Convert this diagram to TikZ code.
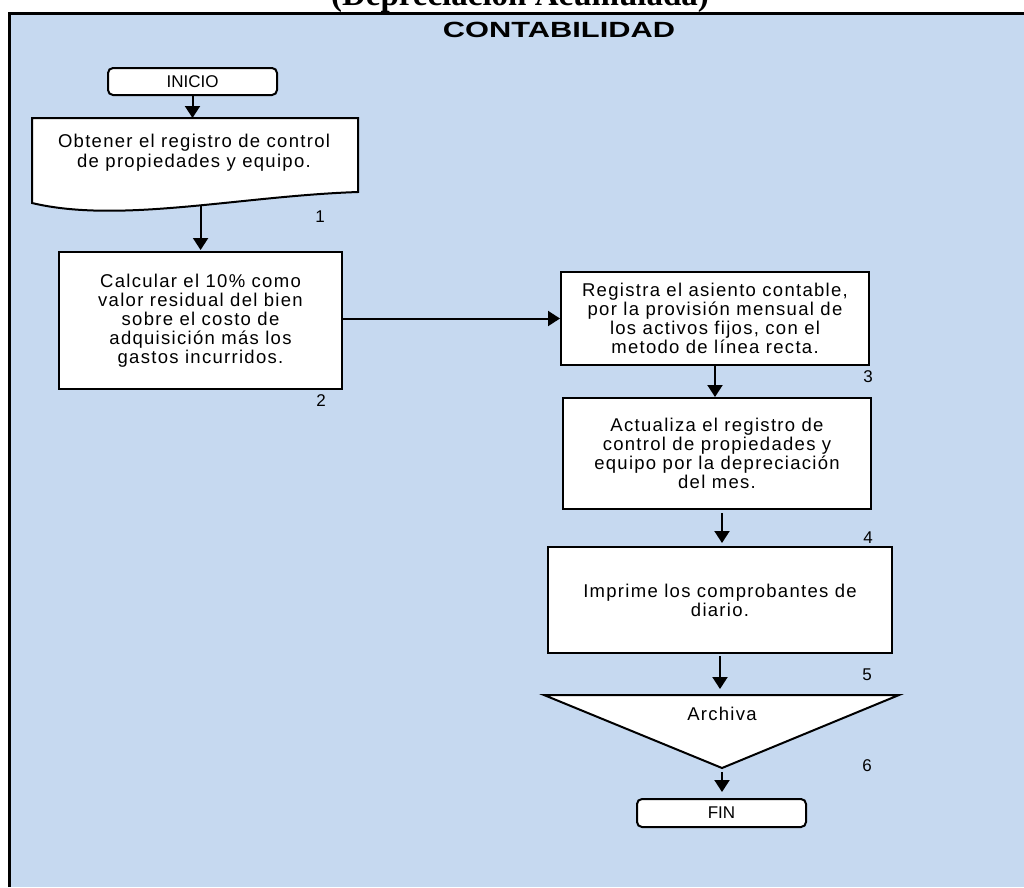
\documentclass[tikz,border=0pt]{standalone}
\usepackage{graphicx}
\usepackage{fontspec}
\setmainfont{Liberation Sans}
\newfontfamily\cuerpo{Liberation Sans}[LetterSpace=7]
\newfontfamily\titulo{Liberation Serif}
\usetikzlibrary{arrows.meta}
\definecolor{fondo}{RGB}{198,217,240}

\begin{document}
\begin{tikzpicture}[x=1pt,y=-1pt,
  caja/.style={draw,line width=2pt,fill=white,align=center,inner sep=0pt,
    font=\cuerpo\fontsize{18.5}{19}\selectfont},
  terminal/.style={caja,rounded corners=5pt,font=\fontsize{17}{19}\selectfont},
  flecha/.style={line width=2pt,-{Triangle[width=15pt,length=12pt]}},
  num/.style={font=\fontsize{17}{19}\selectfont}]
  \useasboundingbox (0,0) rectangle (1024,887);
  \fill[fondo] (10,13) rectangle (1024,887);
  \draw[line width=3pt] (9.5,887) -- (9.5,13) -- (1024,13);
  \node[anchor=base] (titulo) at (520,5) {\titulo\bfseries\fontsize{33}{36}\selectfont (Depreciación Acumulada)};
  \node (area) at (559,30) {\bfseries\fontsize{22}{24}\selectfont\scalebox{1.4}[1]{CONTABILIDAD}};

  \node[terminal,minimum width=169pt,minimum height=27pt] (inicio) at (192.5,81.5) {INICIO};
  \draw[line width=2pt,fill=white] (32,118) coordinate (doctop) -- (358,118) -- (358,192)
    .. controls (240,196) and (120,224) .. coordinate[pos=0.45] (docbot) (32,203) -- cycle;
  \node[align=center,font=\cuerpo\fontsize{18.5}{20}\selectfont] (obtener) at (194,153)
    {Obtener el registro de control\\de propiedades y equipo.};
  \node[caja,minimum width=283pt,minimum height=137pt] (calcular) at (200.5,320.5)
    {Calcular el 10\% como\\valor residual del bien\\sobre el costo de\\adquisición más los\\gastos incurridos.};
  \node[caja,minimum width=308pt,minimum height=93pt] (registra) at (715,318.5)
    {Registra el asiento contable,\\por la provisión mensual de\\los activos fijos, con el\\metodo de línea recta.};
  \node[caja,minimum width=308pt,minimum height=111pt] (actualiza) at (717,453.5)
    {Actualiza el registro de\\control de propiedades y\\equipo por la depreciación\\del mes.};
  \node[caja,minimum width=344pt,minimum height=106pt] (imprime) at (720,600)
    {Imprime los comprobantes de\\diario.};
  \draw[line width=2pt,fill=white] (544,695) coordinate (tritop) -- (899,695) -- (722,768) coordinate (trifin) -- cycle;
  \node[font=\cuerpo\fontsize{18.5}{19}\selectfont] (archiva) at (722,714) {Archiva};
  \node[terminal,minimum width=169pt,minimum height=28pt] (fin) at (721.5,813) {FIN};

  \draw[flecha] (inicio.south) -- (inicio.south |- doctop);
  \draw[flecha] (docbot) -- ([yshift=1pt]docbot |- calcular.north);
  \draw[flecha] (calcular.east |- registra) -- (registra.west);
  \draw[flecha] (registra.south) -- (registra.south |- actualiza.north);
  \draw[flecha,shorten >=3pt] ([shift={(5,3)}]actualiza.south) -- ([xshift=5pt]actualiza.south |- imprime.north);
  \draw[flecha,shorten >=6pt] ([yshift=-2pt]imprime.south) -- (imprime.south |- tritop);
  \draw[flecha,shorten >=6pt] ([yshift=-4pt]trifin) -- (trifin |- fin.north);

  \node[num] at (320,217) {1};
  \node[num] at (321,401) {2};
  \node[num] at (868,377) {3};
  \node[num] at (868,538) {4};
  \node[num] at (867,675) {5};
  \node[num] at (867,766) {6};
\end{tikzpicture}
\end{document}
